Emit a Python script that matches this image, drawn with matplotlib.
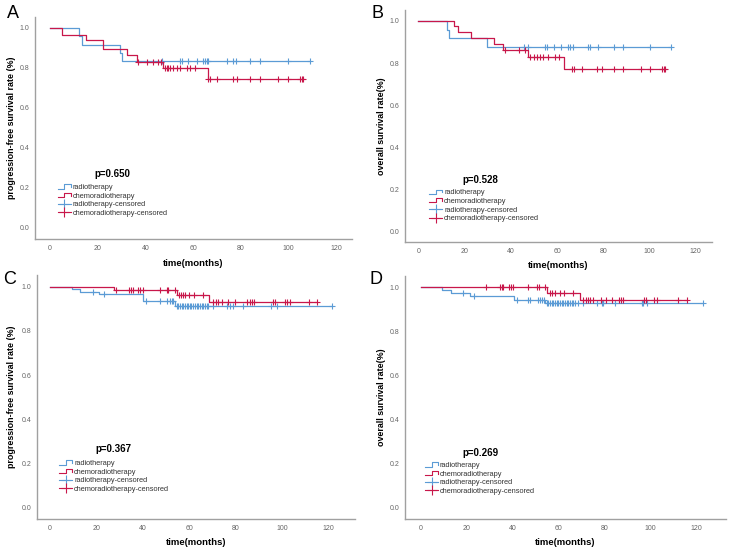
import numpy as np
import matplotlib
matplotlib.use('Agg')
import matplotlib.pyplot as plt
from matplotlib.legend_handler import HandlerBase
from matplotlib.lines import Line2D

plt.rcParams['font.family'] = ['Liberation Sans', 'DejaVu Sans']

BLUE = '#5b9bd5'
RED = '#c8174a'
GREY = '#666666'

# ---- panel A : progression-free survival
a_rt_t = [12.3, 13.3, 29.4, 30.4]
a_rt_s = [0.958, 0.917, 0.875, 0.833]
a_rt_c = [46.9, 54.6, 55.2, 58.0, 61.6, 64.3, 65.0, 65.8, 66.4, 74.1, 76.9, 77.9,
          83.9, 88.1, 100.0, 109.1]
a_cr_t = [5.2, 15.1, 22.1, 32.2, 36.4, 47.6, 66.2]
a_cr_s = [0.965, 0.94, 0.893, 0.865, 0.83, 0.80, 0.745]
a_cr_c = [37.1, 40.6, 43.1, 45.4, 46.5, 48.3, 49.0, 49.6, 50.4, 51.7, 53.2, 54.6,
          57.4, 58.7, 60.8, 66.4, 67.1, 70.0, 76.9, 78.6, 83.9, 88.1, 95.8, 100.0,
          104.9, 105.6, 106.3]

# ---- panel B : overall survival
b_rt_t = [12.3, 13.3, 29.6]
b_rt_s = [0.957, 0.917, 0.875]
b_rt_c = [45.5, 47.3, 54.8, 55.6, 58.5, 61.6, 64.7, 65.7, 66.7, 73.3, 74.3, 77.9,
          84.4, 88.3, 100.3, 109.4]
b_cr_t = [15.6, 17.3, 22.8, 32.5, 36.4, 47.6, 62.8]
b_cr_s = [0.976, 0.946, 0.917, 0.89, 0.861, 0.829, 0.773]
b_cr_c = [37.5, 43.3, 45.9, 48.4, 49.8, 51.3, 52.7, 54.1, 56.0, 58.9, 60.9, 66.4,
          67.1, 70.7, 77.2, 79.4, 84.4, 88.3, 96.4, 100.3, 105.4, 106.1, 106.5]

# ---- panel C : progression-free survival
c_rt_t = [9.3, 12.9, 21.3, 40.2, 53.9]
c_rt_s = [0.989, 0.977, 0.967, 0.935, 0.914]
c_rt_c = [18.4, 23.4, 41.2, 47.4, 50.3, 51.7, 52.4, 53.2, 54.6, 55.3, 56.0, 56.7,
          57.5, 58.2, 58.9, 59.6, 60.3, 61.0, 61.8, 62.5, 63.2, 63.9, 64.6, 65.4,
          66.1, 66.8, 67.5, 68.3, 70.4, 76.1, 77.6, 79.0, 83.3, 95.5, 97.7, 121.4]
c_cr_t = [27.6, 54.6, 68.7]
c_cr_s = [0.986, 0.964, 0.929]
c_cr_c = [28.4, 34.2, 34.9, 35.6, 38.1, 38.8, 40.2, 47.4, 50.3, 51.0, 53.9, 55.6,
          56.3, 57.2, 58.2, 60.0, 62.2, 66.1, 70.4, 71.6, 72.6, 74.0, 76.9, 79.7,
          84.8, 86.2, 86.9, 87.9, 96.3, 97.0, 101.3, 102.0, 103.4, 111.8, 115.0]

# ---- panel D : overall survival
d_rt_t = [9.0, 13.1, 21.3, 40.6, 54.0]
d_rt_s = [0.988, 0.973, 0.96, 0.941, 0.927]
d_rt_c = [18.1, 23.1, 41.7, 46.7, 47.5, 50.8, 51.8, 52.5, 53.7, 54.7, 55.4, 56.2,
          56.9, 57.6, 58.3, 59.1, 59.8, 60.5, 61.2, 62.0, 62.7, 63.4, 64.1, 64.9,
          65.6, 66.3, 67.0, 68.5, 70.7, 76.5, 78.7, 79.4, 84.5, 96.1, 96.8, 98.3,
          122.9]
d_cr_t = [54.7, 69.2]
d_cr_s = [0.975, 0.942]
d_cr_c = [28.2, 34.4, 35.1, 35.8, 38.3, 39.0, 40.2, 46.7, 50.4, 51.4, 54.0, 56.2,
          57.2, 58.3, 60.5, 62.3, 66.3, 70.7, 71.7, 72.6, 73.6, 75.0, 78.4, 80.4,
          83.0, 86.2, 87.1, 88.1, 97.2, 98.0, 101.6, 102.6, 112.0, 115.7]

p_values = ['p=0.650', 'p=0.528', 'p=0.367', 'p=0.269']
panel_letters = ['A', 'B', 'C', 'D']
ylabels = ['progression-free survival rate (%)', 'overall survival rate(%)',
           'progression-free survival rate (%)', 'overall survival rate(%)']
legend_labels = ['radiotherapy', 'chemoradiotherapy',
                 'radiotherapy-censored', 'chemoradiotherapy-censored']

W, H = 730, 552


class StepHandler(HandlerBase):
    def create_artists(self, legend, orig_handle, xdescent, ydescent,
                       width, height, fontsize, trans):
        x0 = -xdescent
        xs = [x0, x0 + 0.5 * width, x0 + 0.5 * width, x0 + width, x0 + width]
        ys = [0.1 * height, 0.1 * height, 0.9 * height, 0.9 * height, 0.35 * height]
        ln = Line2D(xs, ys, color=orig_handle.get_color(), lw=0.8)
        ln.set_transform(trans)
        return [ln]


def km_curve(ax, times, surv, cens, color):
    end = max(max(times), max(cens))
    xs = [0] + list(times) + [end]
    ys = [1.0] + list(surv) + [surv[-1]]
    ax.step(xs, ys, where='post', color=color, lw=0.9)
    levels = np.array([1.0] + list(surv))
    idx = np.searchsorted(np.array(times), np.array(cens), side='right')
    ax.plot(cens, levels[idx], ls='none', marker='+', ms=4.5, mew=0.8, color=color)


def make_panel(box, xlim, ylim, rt, cr, pval, ptxt_xy, leg_xy, letter, letter_xy,
               ylab, ylab_x, xlab_y):
    l, r, t, b = box
    ax = fig.add_axes([l / W, 1 - b / H, (r - l) / W, (b - t) / H])
    km_curve(ax, *rt, BLUE)
    km_curve(ax, *cr, RED)
    ax.set_xlim(*xlim)
    ax.set_ylim(*ylim)
    ax.set_xticks([0, 20, 40, 60, 80, 100, 120])
    ax.set_yticks([0.0, 0.2, 0.4, 0.6, 0.8, 1.0])
    ax.set_yticklabels(['0.0', '0.2', '0.4', '0.6', '0.8', '1.0'])
    ax.tick_params(length=0, labelsize=5, labelcolor=GREY, pad=4)
    for s in ['top', 'right']:
        ax.spines[s].set_visible(False)
    for s in ['left', 'bottom']:
        ax.spines[s].set_color('#a0a0a0')
        ax.spines[s].set_linewidth(1.0)
    ax.set_ylabel(ylab, fontsize=6.4, fontweight='bold')
    ax.yaxis.set_label_coords(ylab_x, 0.5)
    ax.set_xlabel('time(months)', fontsize=6.8, fontweight='bold')
    ax.xaxis.set_label_coords(0.5, xlab_y)
    ax.text(ptxt_xy[0], ptxt_xy[1], pval, fontsize=7, fontweight='bold',
            ha='center', va='center')
    handles = [Line2D([], [], color=BLUE), Line2D([], [], color=RED),
               Line2D([], [], color=BLUE, marker='+', ms=7, mew=0.8, lw=0.8),
               Line2D([], [], color=RED, marker='+', ms=7, mew=0.8, lw=0.8)]
    leg = ax.legend(handles, legend_labels, loc='upper left',
                    bbox_to_anchor=leg_xy, frameon=False,
                    fontsize=5.3, labelspacing=0.2, handlelength=1.8,
                    handletextpad=0.25, borderpad=0, borderaxespad=0,
                    handler_map={handles[0]: StepHandler(), handles[1]: StepHandler()})
    for tx in leg.get_texts():
        tx.set_color('#333333')
    fig.text(letter_xy[0] / W, 1 - letter_xy[1] / H, letter, fontsize=13,
             ha='center', va='center')
    return ax


fig = plt.figure(figsize=(W / 100, H / 100), dpi=100)

make_panel((35, 352, 17, 239), (-6.3, 126.7), (-0.055, 1.055),
           (a_rt_t, a_rt_s, a_rt_c), (a_cr_t, a_cr_s, a_cr_c),
           p_values[0], (26, 0.27), (0.072, 0.248), panel_letters[0], (13, 14),
           ylabels[0], -0.06, -0.09)
make_panel((405, 712, 10, 242), (-5.8, 127.0), (-0.049, 1.052),
           (b_rt_t, b_rt_s, b_rt_c), (b_cr_t, b_cr_s, b_cr_c),
           p_values[1], (27, 0.245), (0.078, 0.228), panel_letters[1], (377, 13),
           ylabels[1], -0.062, -0.082)
make_panel((37, 355, 275, 519), (-5.6, 131.5), (-0.05, 1.053),
           (c_rt_t, c_rt_s, c_rt_c), (c_cr_t, c_cr_s, c_cr_c),
           p_values[2], (27.2, 0.266), (0.069, 0.242), panel_letters[2], (10, 280),
           ylabels[2], -0.066, -0.078)
make_panel((405, 726, 276, 519), (-7.0, 132.8), (-0.05, 1.05),
           (d_rt_t, d_rt_s, d_rt_c), (d_cr_t, d_cr_s, d_cr_c),
           p_values[3], (25.7, 0.248), (0.062, 0.235), panel_letters[3], (376, 280),
           ylabels[3], -0.059, -0.078)

plt.savefig('out.png', dpi=100)
